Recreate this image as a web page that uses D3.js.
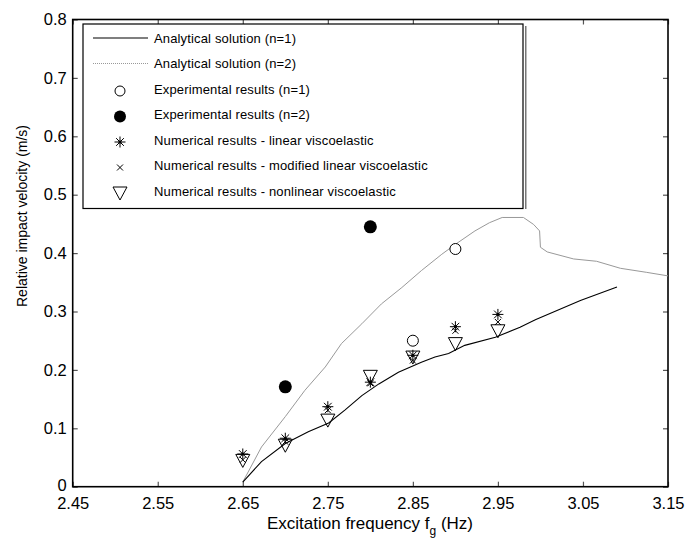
<!DOCTYPE html>
<html><head><meta charset="utf-8">
<script src="https://cdn.jsdelivr.net/npm/d3@7/dist/d3.min.js"></script>
<style>body{margin:0;background:#fff}svg{display:block;font-family:"Liberation Sans",Arial,sans-serif}</style>
</head><body><svg id="c" width="685" height="539"></svg>
<script>
const xTicks = [2.45,2.55,2.65,2.75,2.85,2.95,3.05,3.15];
const yTicks = [0,0.1,0.2,0.3,0.4,0.5,0.6,0.7,0.8];
const freq = [2.65,2.70,2.75,2.80,2.85,2.90,2.95];
const expN1 = [[2.85,0.250],[2.90,0.407]];
const expN2 = [[2.70,0.171],[2.80,0.445]];
const numLinear = [0.056,0.083,0.137,0.179,0.225,0.274,0.295];
const numModified = [0.046,0.077,0.131,0.177,0.216,0.267,0.282];
const numNonlinear = [0.045,0.071,0.114,0.189,0.222,0.245,0.267];
const analyticN1 = [[2.65,0.008],[2.672,0.043],[2.70,0.074],[2.727,0.094],[2.751,0.109],[2.77,0.131],[2.79,0.156],[2.81,0.176],[2.833,0.196],[2.86,0.213],[2.876,0.222],[2.892,0.228],[2.911,0.242],[2.947,0.256],[2.976,0.273],[2.994,0.286],[3.047,0.319],[3.09,0.342]];
const analyticN2 = [[2.65,0.008],[2.672,0.068],[2.70,0.12],[2.723,0.165],[2.747,0.205],[2.766,0.245],[2.79,0.279],[2.813,0.313],[2.837,0.341],[2.86,0.37],[2.884,0.398],[2.9,0.415],[2.923,0.438],[2.94,0.452],[2.955,0.461],[2.98,0.461],[2.992,0.449],[2.999,0.438],[3.0,0.41],[3.008,0.402],[3.039,0.39],[3.066,0.386],[3.094,0.374],[3.125,0.367],[3.15,0.361]];
const legendLabels = ["Analytical solution (n=1)","Analytical solution (n=2)","Experimental results (n=1)","Experimental results (n=2)","Numerical results - linear viscoelastic","Numerical results - modified linear viscoelastic","Numerical results - nonlinear viscoelastic"];

const svg = d3.select("#c");
const L=72.7,R=668,T=19.5,B=486.7;
const x = d3.scaleLinear().domain([2.45,3.15]).range([L,R]);
const y = d3.scaleLinear().domain([0,0.8]).range([B,T]);

const tickCol="#555";
const gx = svg.append("g").attr("transform",`translate(0,${B})`).call(d3.axisBottom(x).tickValues(xTicks).tickFormat(d3.format(".2f")).tickSize(-5).tickPadding(11));
const gy = svg.append("g").attr("transform",`translate(${L},0)`).call(d3.axisLeft(y).tickValues(yTicks).tickFormat(d=>d===0?"0":d3.format(".1f")(d)).tickSize(-5).tickPadding(6));
const gt = svg.append("g").attr("transform",`translate(0,${T})`).call(d3.axisTop(x).tickValues(xTicks).tickFormat("").tickSize(-5));
const gr = svg.append("g").attr("transform",`translate(${R},0)`).call(d3.axisRight(y).tickValues(yTicks).tickFormat("").tickSize(-5));
[gx,gy,gt,gr].forEach(g=>{g.select(".domain").remove();g.selectAll(".tick line").attr("stroke",tickCol).attr("stroke-width",1.2);g.selectAll("text").attr("fill","#000").style("font-size","16.5px").style("font-family","'Liberation Sans',Arial,sans-serif");});
gy.selectAll(".tick text").filter(d=>d===0).attr("dy","0.2em");
svg.append("rect").attr("x",L).attr("y",T).attr("width",R-L).attr("height",B-T).attr("fill","none").attr("stroke","#000").attr("stroke-width",1.6);

const xt = svg.append("text").attr("x",370).attr("y",529).attr("text-anchor","middle").style("font-size","17px");
xt.append("tspan").text("Excitation frequency f");
xt.append("tspan").attr("dy",6).style("font-size","12px").text("g");
xt.append("tspan").attr("dy",-6).text(" (Hz)");
svg.append("text").attr("transform","translate(27,216) rotate(-90)").attr("text-anchor","middle").style("font-size","14px").text("Relative impact velocity (m/s)");

const line = d3.line().x(d=>x(d[0])).y(d=>y(d[1]));
svg.append("path").datum(analyticN2).attr("d",line).attr("fill","none").attr("stroke","#999").attr("stroke-width",1);
svg.append("path").datum(analyticN1).attr("d",line).attr("fill","none").attr("stroke","#000").attr("stroke-width",1.1);

function tri(g,cx,cy){g.append("path").attr("d",`M${cx-7},${cy-6}L${cx+7},${cy-6}L${cx},${cy+7}Z`).attr("fill","none").attr("stroke","#000").attr("stroke-width",1);}
function star(g,cx,cy){const r=5.5;[[0,-r,0,r],[-r,0,r,0],[-r*0.7,-r*0.7,r*0.7,r*0.7],[-r*0.7,r*0.7,r*0.7,-r*0.7]].forEach(s=>g.append("line").attr("x1",cx+s[0]).attr("y1",cy+s[1]).attr("x2",cx+s[2]).attr("y2",cy+s[3]).attr("stroke","#000").attr("stroke-width",1));g.append("circle").attr("cx",cx).attr("cy",cy).attr("r",1.6).attr("fill","#000");}
function cross(g,cx,cy){const r=3;[[-r,-r,r,r],[-r,r,r,-r]].forEach(s=>g.append("line").attr("x1",cx+s[0]).attr("y1",cy+s[1]).attr("x2",cx+s[2]).attr("y2",cy+s[3]).attr("stroke","#000").attr("stroke-width",1));}

const m = svg.append("g");
freq.forEach((f,i)=>tri(m,x(f),y(numNonlinear[i])));
freq.forEach((f,i)=>cross(m,x(f),y(numModified[i])));
freq.forEach((f,i)=>star(m,x(f),y(numLinear[i])));
expN1.forEach(d=>m.append("circle").attr("cx",x(d[0])).attr("cy",y(d[1])).attr("r",5.5).attr("fill","#fff").attr("stroke","#000").attr("stroke-width",1));
expN2.forEach(d=>m.append("circle").attr("cx",x(d[0])).attr("cy",y(d[1])).attr("r",6.5).attr("fill","#000"));

const lg = svg.append("g");
lg.append("rect").attr("x",525).attr("y",26).attr("width",1.5).attr("height",183).attr("fill","#777");
lg.append("rect").attr("x",83).attr("y",24).attr("width",440).attr("height",184.5).attr("fill","#fff").attr("stroke","#000").attr("stroke-width",1.2);
const rowY = i=>38+i*25.5;
lg.append("line").attr("x1",93).attr("x2",148).attr("y1",rowY(0)).attr("y2",rowY(0)).attr("stroke","#000").attr("stroke-width",1.1);
lg.append("line").attr("x1",93).attr("x2",148).attr("y1",rowY(1)).attr("y2",rowY(1)).attr("stroke","#999").attr("stroke-width",1).attr("stroke-dasharray","1,1");
lg.append("circle").attr("cx",120).attr("cy",rowY(2)+2).attr("r",5).attr("fill","none").attr("stroke","#000");
lg.append("circle").attr("cx",120).attr("cy",rowY(3)+2).attr("r",6).attr("fill","#000");
star(lg,120,rowY(4)+2);
cross(lg,120,rowY(5)+2);
tri(lg,120,rowY(6)+2);
legendLabels.forEach((t,i)=>lg.append("text").attr("x",154).attr("y",rowY(i)+4.5).style("font-size","13px").style("letter-spacing","0.15px").text(t));
</script></body></html>
